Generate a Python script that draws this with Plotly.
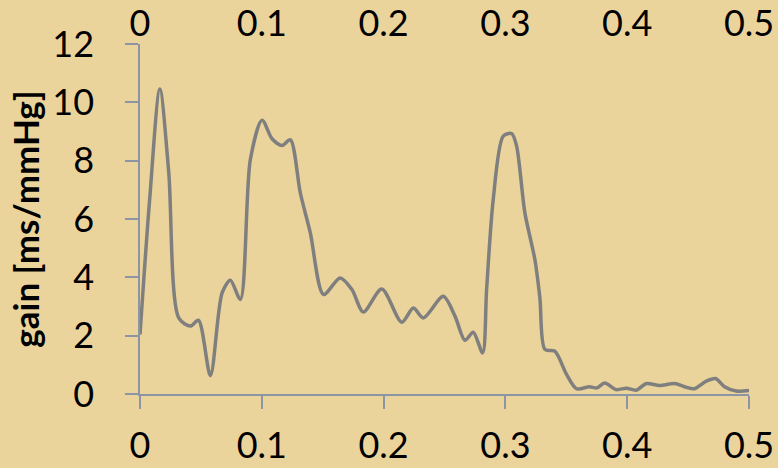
import plotly.graph_objects as go

# Data
x_vals = [0, 0.0078, 0.0163, 0.0236, 0.0318, 0.0414, 0.048, 0.0578, 0.0674, 0.0742,
          0.0824, 0.0906, 0.1002, 0.1084, 0.1166, 0.1234, 0.1316, 0.1398, 0.1507, 0.1643,
          0.174, 0.1834, 0.1985, 0.2149, 0.2244, 0.2326, 0.249, 0.2586, 0.2668, 0.2736,
          0.2813, 0.2846, 0.29, 0.2982, 0.3051, 0.3092, 0.316, 0.3242, 0.3283, 0.3324,
          0.3406, 0.3502, 0.3584, 0.369, 0.375, 0.3816, 0.391, 0.3993, 0.4075, 0.4157,
          0.4266, 0.439, 0.447, 0.4553, 0.4649, 0.4725, 0.4799, 0.4895, 0.5]
gain = [2.04, 6.6, 10.46, 7.6, 2.61, 2.33, 2.53, 0.63, 3.47, 3.9,
        3.24, 8.04, 9.39, 8.75, 8.52, 8.72, 6.9, 5.53, 3.41, 3.98,
        3.58, 2.81, 3.6, 2.46, 2.95, 2.61, 3.35, 2.67, 1.84, 2.12,
        1.41, 3.6, 6.67, 8.84, 8.93, 8.5, 6.21, 4.61, 3.3, 1.53,
        1.47, 0.67, 0.18, 0.25, 0.21, 0.38, 0.15, 0.2, 0.13, 0.36,
        0.29, 0.36, 0.25, 0.18, 0.44, 0.53, 0.25, 0.1, 0.12]

x_ticks = [0, 0.1, 0.2, 0.3, 0.4, 0.5]
x_tick_labels = ["0", "0.1", "0.2", "0.3", "0.4", "0.5"]
y_ticks = [0, 2, 4, 6, 8, 10, 12]

AXIS_COLOR = "#8C95A6"
FONT = "Lato"

fig = go.Figure()
fig.add_trace(go.Scatter(
    x=x_vals, y=gain, mode="lines",
    line=dict(color="#7F7F7F", width=3.5, shape="spline", smoothing=0.8),
    showlegend=False, hoverinfo="skip",
))
# invisible trace for top axis
fig.add_trace(go.Scatter(x=[0, 0.5], y=[0, 0], xaxis="x2", mode="lines",
                         line=dict(width=0), showlegend=False, hoverinfo="skip"))

fig.update_layout(
    width=778, height=468,
    margin=dict(l=139.5, r=28.5, t=44, b=73.5, autoexpand=False),
    paper_bgcolor="#EAD49C",
    plot_bgcolor="rgba(0,0,0,0)",
    font=dict(family=FONT, color="#000000"),
    xaxis=dict(
        range=[0, 0.5], tickvals=x_ticks, ticktext=x_tick_labels,
        showgrid=False, zeroline=False, automargin=False,
        showline=True, linecolor=AXIS_COLOR, linewidth=1.5,
        ticks="outside", ticklen=13, tickwidth=1.5, tickcolor=AXIS_COLOR,
        tickfont=dict(size=36, family=FONT, color="#000000"),
        ticklabelstandoff=6,
    ),
    xaxis2=dict(
        range=[0, 0.5], tickvals=x_ticks, ticktext=x_tick_labels,
        overlaying="x", side="top", showgrid=False, zeroline=False,
        showline=False, ticks="", automargin=False,
        tickfont=dict(size=36, family=FONT, color="#000000"),
    ),
    yaxis=dict(
        range=[0, 12], tickvals=y_ticks,
        showgrid=False, zeroline=False, automargin=False,
        showline=True, linecolor=AXIS_COLOR, linewidth=1.5,
        ticks="outside", ticklen=13, tickwidth=1.5, tickcolor=AXIS_COLOR,
        tickfont=dict(size=36, family=FONT, color="#000000"),
        ticklabelstandoff=24,
        title=dict(text="<b>gain [ms/mmHg]</b>", font=dict(size=35, family=FONT, color="#000000"),
                   standoff=2),
    ),
)

fig.write_html("out.html", config={"displayModeBar": False},
               post_script="document.body.style.margin='0';")
